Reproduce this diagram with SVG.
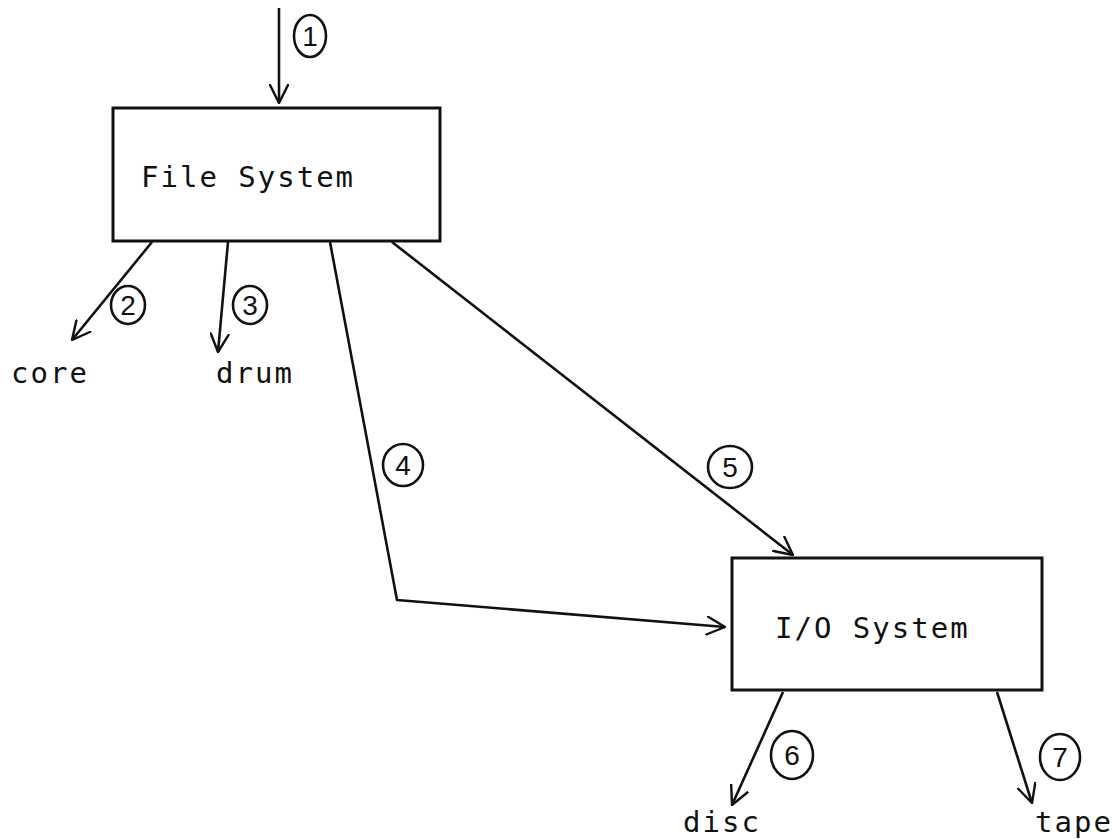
<svg xmlns="http://www.w3.org/2000/svg" width="1112" height="839" viewBox="0 0 1112 839">
<style>
.box{fill:#fff;stroke:#111;stroke-width:3}
.lbl{font-family:"DejaVu Sans Mono","Liberation Mono",monospace;font-size:29px;letter-spacing:2px;fill:#111}
.ln{fill:none;stroke:#111;stroke-width:2.6;stroke-linejoin:round}
.num{fill:none;stroke:#111;stroke-width:2.6}
.nt{font-family:"Liberation Sans",Arial,sans-serif;font-size:28px;fill:#111;text-anchor:middle}
</style>
<defs>
<marker id="ah" viewBox="0 0 20 20" markerWidth="20" markerHeight="20" refX="19" refY="10" orient="auto" markerUnits="userSpaceOnUse">
<path d="M1,1 L19,10 L1,19" fill="none" stroke="#111" stroke-width="2.4" stroke-linecap="round" stroke-linejoin="round"/>
</marker>
</defs>
<rect width="1112" height="839" fill="#fff"/>
<g id="connectors">
<line class="ln" x1="279" y1="8" x2="279" y2="103" marker-end="url(#ah)"/>
<line class="ln" x1="152" y1="242" x2="72" y2="340" marker-end="url(#ah)"/>
<line class="ln" x1="228" y1="242" x2="218" y2="352" marker-end="url(#ah)"/>
<polyline class="ln" points="330,242 397,600 725,627" marker-end="url(#ah)"/>
<line class="ln" x1="392" y1="242" x2="793" y2="555" marker-end="url(#ah)"/>
<line class="ln" x1="783" y1="692" x2="732" y2="805" marker-end="url(#ah)"/>
<line class="ln" x1="997" y1="692" x2="1032" y2="803" marker-end="url(#ah)"/>
</g>
<g id="file-system">
<rect class="box" x="113" y="108" width="327" height="133"/>
<text class="lbl" x="141" y="187">File System</text>
</g>
<g id="io-system">
<rect class="box" x="732" y="558" width="310" height="132"/>
<text class="lbl" x="775" y="638">I/O System</text>
</g>
<g id="core"><text class="lbl" x="11" y="383">core</text></g>
<g id="drum"><text class="lbl" x="216" y="383">drum</text></g>
<g id="disc"><text class="lbl" x="683" y="832">disc</text></g>
<g id="tape"><text class="lbl" x="1035" y="832">tape</text></g>
<g id="labels">
<ellipse class="num" cx="310" cy="36" rx="16" ry="21"/><text class="nt" x="310" y="46">1</text>
<ellipse class="num" cx="128" cy="305" rx="17" ry="19"/><text class="nt" x="128" y="315">2</text>
<ellipse class="num" cx="250" cy="305" rx="17" ry="19"/><text class="nt" x="250" y="315">3</text>
<ellipse class="num" cx="403" cy="465" rx="20" ry="21"/><text class="nt" x="403" y="475">4</text>
<ellipse class="num" cx="730" cy="467" rx="22" ry="21"/><text class="nt" x="730" y="477">5</text>
<ellipse class="num" cx="792" cy="755" rx="21" ry="24"/><text class="nt" x="792" y="765">6</text>
<ellipse class="num" cx="1060" cy="757" rx="20" ry="23"/><text class="nt" x="1060" y="767">7</text>
</g>
</svg>
